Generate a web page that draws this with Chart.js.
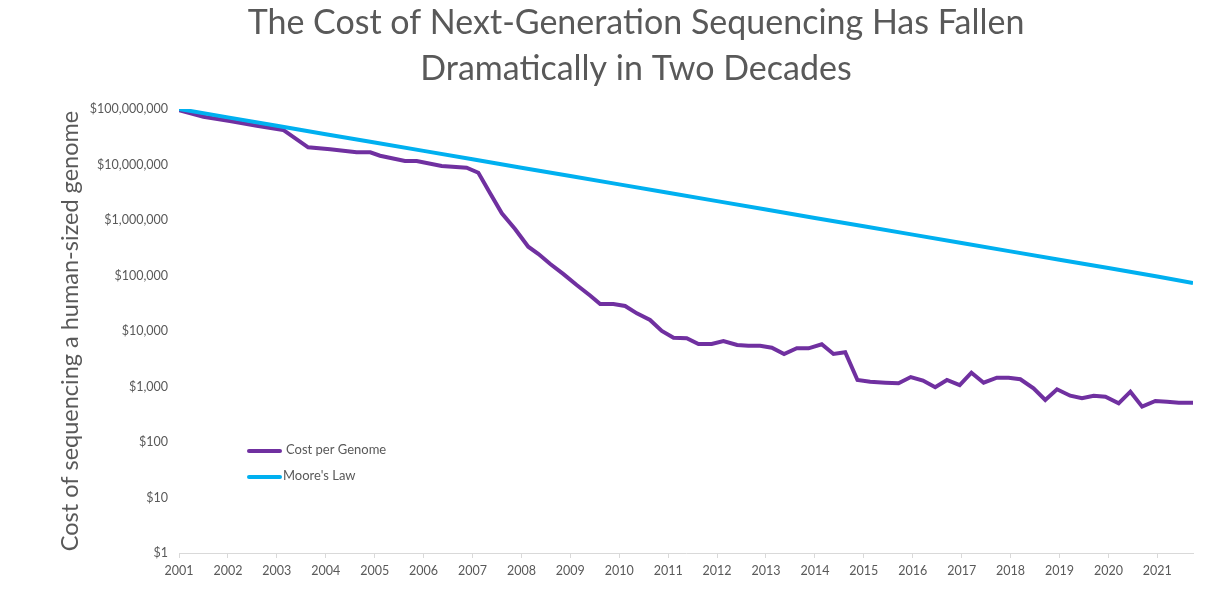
<!DOCTYPE html>
<html><head><meta charset="utf-8">
<script src="https://cdn.jsdelivr.net/npm/chart.js@4.4.0/dist/chart.umd.min.js"></script>
<style>html,body{margin:0;padding:0;background:#fff;}#wrap{width:1207px;height:606px;}</style>
</head><body><div id="wrap"><canvas id="c" width="1207" height="606"></canvas></div>
<script>
const titleLines = ["The Cost of Next-Generation Sequencing Has Fallen", "Dramatically in Two Decades"];
const yAxisTitle = "Cost of sequencing a human-sized genome";
const yearTicks = [2001,2002,2003,2004,2005,2006,2007,2008,2009,2010,2011,2012,2013,2014,2015,2016,2017,2018,2019,2020,2021];
const costTicks = [1,10,100,1000,10000,100000,1000000,10000000,100000000];

const genomeYears = [2001.00,2001.50,2002.04,2002.59,2003.13,2003.64,2004.09,2004.63,2004.91,2005.11,2005.62,2005.86,2006.37,2006.88,2007.12,2007.36,2007.60,2007.87,2008.14,2008.35,2008.59,2008.86,2009.13,2009.41,2009.61,2009.88,2010.12,2010.36,2010.63,2010.87,2011.11,2011.38,2011.62,2011.89,2012.13,2012.41,2012.64,2012.88,2013.12,2013.37,2013.63,2013.87,2014.14,2014.38,2014.62,2014.87,2015.13,2015.44,2015.71,2015.96,2016.21,2016.46,2016.70,2016.96,2017.20,2017.45,2017.72,2017.96,2018.20,2018.47,2018.71,2018.95,2019.22,2019.46,2019.70,2019.94,2020.21,2020.45,2020.69,2020.96,2021.20,2021.44,2021.73];
const genomeCost = [95300000,72600000,60800000,50000000,41900000,20400000,18800000,16600000,16600000,14400000,11600000,11600000,9400000,8750000,7100000,3030000,1320000,689000,330000,244000,161000,106000,67400,43300,30600,30600,28200,20800,15800,10000,7570,7390,5830,5830,6610,5590,5430,5430,5000,3850,4880,4880,5760,3850,4130,1310,1220,1170,1140,1480,1280,968,1310,1060,1770,1170,1440,1440,1350,929,571,891,683,613,683,655,498,806,433,548,532,511,511];

const mooreYears = [2001,2002,2003,2004,2005,2006,2007,2008,2009,2010,2011,2012,2013,2014,2015,2016,2017,2018,2019,2020,2021,2021.73];
const mooreCost = [100000000,70600000,49900000,35200000,24900000,17600000,12400000,8770000,6200000,4380000,3090000,2190000,1540000,1090000,771000,545000,385000,272000,192000,136000,96000,73300];

const FONT = 'Lato';
const GREY = '#595959';

const decor = {
  id: 'decor',
  afterDraw(chart) {
    const c = chart.ctx;
    c.save();
    c.fillStyle = GREY;
    c.textAlign = 'center';
    c.textBaseline = 'middle';
    c.font = '34px ' + FONT;
    c.fillText(titleLines[0], 636, 23);
    c.fillText(titleLines[1], 636, 69);
    // legend
    const items = [
      {label: 'Cost per Genome', color: '#7030A0', y: 451, tx: 286},
      {label: "Moore's Law", color: '#00B0F0', y: 477, tx: 283}
    ];
    c.textAlign = 'left';
    c.font = '13px ' + FONT;
    items.forEach(it => {
      c.strokeStyle = it.color;
      c.lineWidth = 4;
      c.lineCap = 'round';
      c.beginPath(); c.moveTo(249, it.y); c.lineTo(280, it.y); c.stroke();
      c.fillStyle = GREY;
      c.fillText(it.label, it.tx, it.y - 1);
    });
    c.restore();
  }
};

new Chart(document.getElementById('c'), {
  type: 'line',
  data: {
    datasets: [
      {label: "Moore's Law", data: mooreYears.map((x, i) => ({x, y: mooreCost[i]})), borderColor: '#00B0F0', backgroundColor: '#00B0F0', borderWidth: 4, pointRadius: 0, tension: 0},
      {label: 'Cost per Genome', data: genomeYears.map((x, i) => ({x, y: genomeCost[i]})), borderColor: '#7030A0', backgroundColor: '#7030A0', borderWidth: 4, pointRadius: 0, tension: 0}
    ]
  },
  options: {
    responsive: false,
    animation: false,
    layout: {padding: {left: 52, right: 14, top: 109, bottom: 0}},
    plugins: {legend: {display: false}, title: {display: false}, tooltip: {enabled: false}},
    scales: {
      x: {
        type: 'linear', min: 2001, max: 2021.73,
        afterBuildTicks: a => { a.ticks = yearTicks.map(v => ({value: v})); },
        afterFit: s => { s.height = 53; },
        grid: {display: true, drawOnChartArea: false, tickLength: 5, color: '#d9d9d9'},
        border: {color: '#d9d9d9'},
        ticks: {padding: 5, color: GREY, font: {family: FONT, size: 12.5}, maxRotation: 0, autoSkip: false, callback: v => String(v)}
      },
      y: {
        type: 'logarithmic', min: 1, max: 100000000,
        afterBuildTicks: a => { a.ticks = costTicks.map(v => ({value: v})); },
        afterFit: s => { s.width = 127; },
        grid: {display: false, drawTicks: false},
        border: {display: false},
        ticks: {padding: 11, color: GREY, font: {family: FONT, size: 12.5}, callback: v => '$' + Number(v).toLocaleString('en-US')},
        title: {display: true, text: yAxisTitle, color: GREY, font: {family: FONT, size: 23.5}, padding: {top: 4, bottom: 4}}
      }
    }
  },
  plugins: [decor]
});
</script>
</body></html>
